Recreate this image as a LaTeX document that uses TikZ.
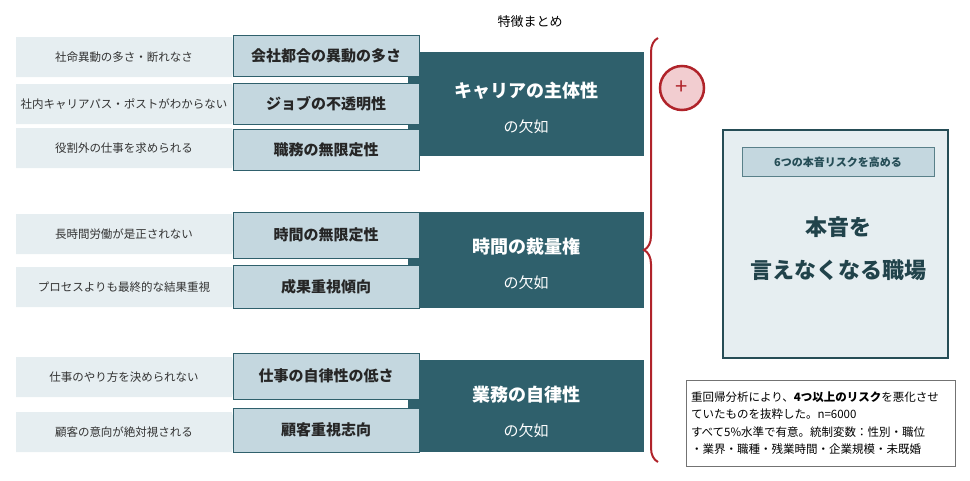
\documentclass[tikz,border=0pt]{standalone}
\usepackage{fontspec}
\setmainfont{Noto Sans CJK JP}
\usetikzlibrary{decorations.pathreplacing,shapes.symbols}
\definecolor{darkteal}{HTML}{2F606C}
\definecolor{midblue}{HTML}{C4D7DF}
\definecolor{lightblue}{HTML}{E6EEF1}
\definecolor{bracered}{HTML}{B0232A}
\definecolor{pinkfill}{HTML}{F2CDD0}
\tikzset{
  causebox/.style={fill=lightblue,signal,signal to=east,signal pointer angle=150,
    minimum width=221pt,minimum height=40pt,inner sep=0pt,font=\fontsize{11.5}{13}\selectfont,
    text=black!80},
  factorbox/.style={fill=midblue,draw=darkteal,line width=0.8pt,minimum width=186pt,
    minimum height=41pt,inner sep=0pt,font=\bfseries\fontsize{15}{17}\selectfont,text=black!85},
  groupbox/.style={fill=darkteal,minimum width=236pt,inner sep=0pt,text=white},
}
\begin{document}
\begin{tikzpicture}[x=1pt,y=-1pt]
  \useasboundingbox (0,0) rectangle (970,480);
  \node (title) at (530,22) {\fontsize{13}{15}\selectfont 特徴まとめ};
  % dark groups
  \node[groupbox,minimum height=104pt] (g1) at (526,104) {};
  \node[groupbox,minimum height=96pt]  (g2) at (526,260) {};
  \node[groupbox,minimum height=92pt]  (g3) at (526,406) {};
  \node[text=white,font=\bfseries\fontsize{18}{20}\selectfont] at (526,91) {キャリアの主体性};
  \node[text=white,font=\fontsize{15}{17}\selectfont] at (526,127) {の欠如};
  \node[text=white,font=\bfseries\fontsize{18}{20}\selectfont] at (526,247) {時間の裁量権};
  \node[text=white,font=\fontsize{15}{17}\selectfont] at (526,283) {の欠如};
  \node[text=white,font=\bfseries\fontsize{18}{20}\selectfont] at (526,395) {業務の自律性};
  \node[text=white,font=\fontsize{15}{17}\selectfont] at (526,431) {の欠如};
  % causes
  \foreach \y/\t in {57/社命異動の多さ・断れなさ, 104/社内キャリアパス・ポストがわからない,
      148/役割外の仕事を求められる, 234/長時間労働が是正されない,
      287/プロセスよりも最終的な結果重視, 377/仕事のやり方を決められない,
      432/顧客の意向が絶対視される}
    \node[causebox] at (124,\y) {\t\hspace{10pt}};
  % factors
  \node[factorbox] (f1) at (326,56)  {会社都合の異動の多さ};
  \node[factorbox] (f2) at (326,104) {ジョブの不透明性};
  \node[factorbox] (f3) at (326,150) {職務の無限定性};
  \node[factorbox,minimum height=46pt] (f4) at (326,235) {時間の無限定性};
  \node[factorbox,minimum height=43pt] (f5) at (326,287) {成果重視傾向};
  \node[factorbox,minimum height=46pt] (f6) at (326,376) {仕事の自律性の低さ};
  \node[factorbox,minimum height=44pt] (f7) at (326,430) {顧客重視志向};
  % brace and plus
  \draw[bracered,line width=2pt,decorate,decoration={brace,amplitude=14pt}]
    (658,462) -- (658,38);
  \node[circle,draw=bracered,fill=pinkfill,line width=2.5pt,minimum size=44pt,
    font=\fontsize{22}{22}\selectfont,text=bracered] (plus) at (682,88) {+};
  % result
  \node[fill=lightblue,draw=darkteal!80!black,line width=2.5pt,minimum width=225pt,
    minimum height=228pt] (result) at (835.5,244) {};
  \node[fill=midblue,draw=darkteal!80,line width=0.6pt,minimum width=192pt,minimum height=29pt,
    font=\bfseries\fontsize{11}{13}\selectfont,text=darkteal!80!black] (risk) at (838,162) {6つの本音リスクを高める};
  \node[align=center,font=\bfseries\fontsize{22}{43}\selectfont,text=darkteal!70!black]
    (main) at (838,249) {本音を\\言えなくなる職場};
  % note
  \node[draw=black!55,line width=0.8pt,minimum width=269pt,minimum height=86pt,
    text width=259pt,align=left,font=\fontsize{11.5}{17.5}\selectfont] (note) at (820.5,423)
    {重回帰分析により、\textbf{4つ以上のリスク}を悪化させ\\ていたものを抜粋した。n=6000\\
     すべて5\%水準で有意。統制変数：性別・職位\\・業界・職種・残業時間・企業規模・未既婚};
\end{tikzpicture}
\end{document}
